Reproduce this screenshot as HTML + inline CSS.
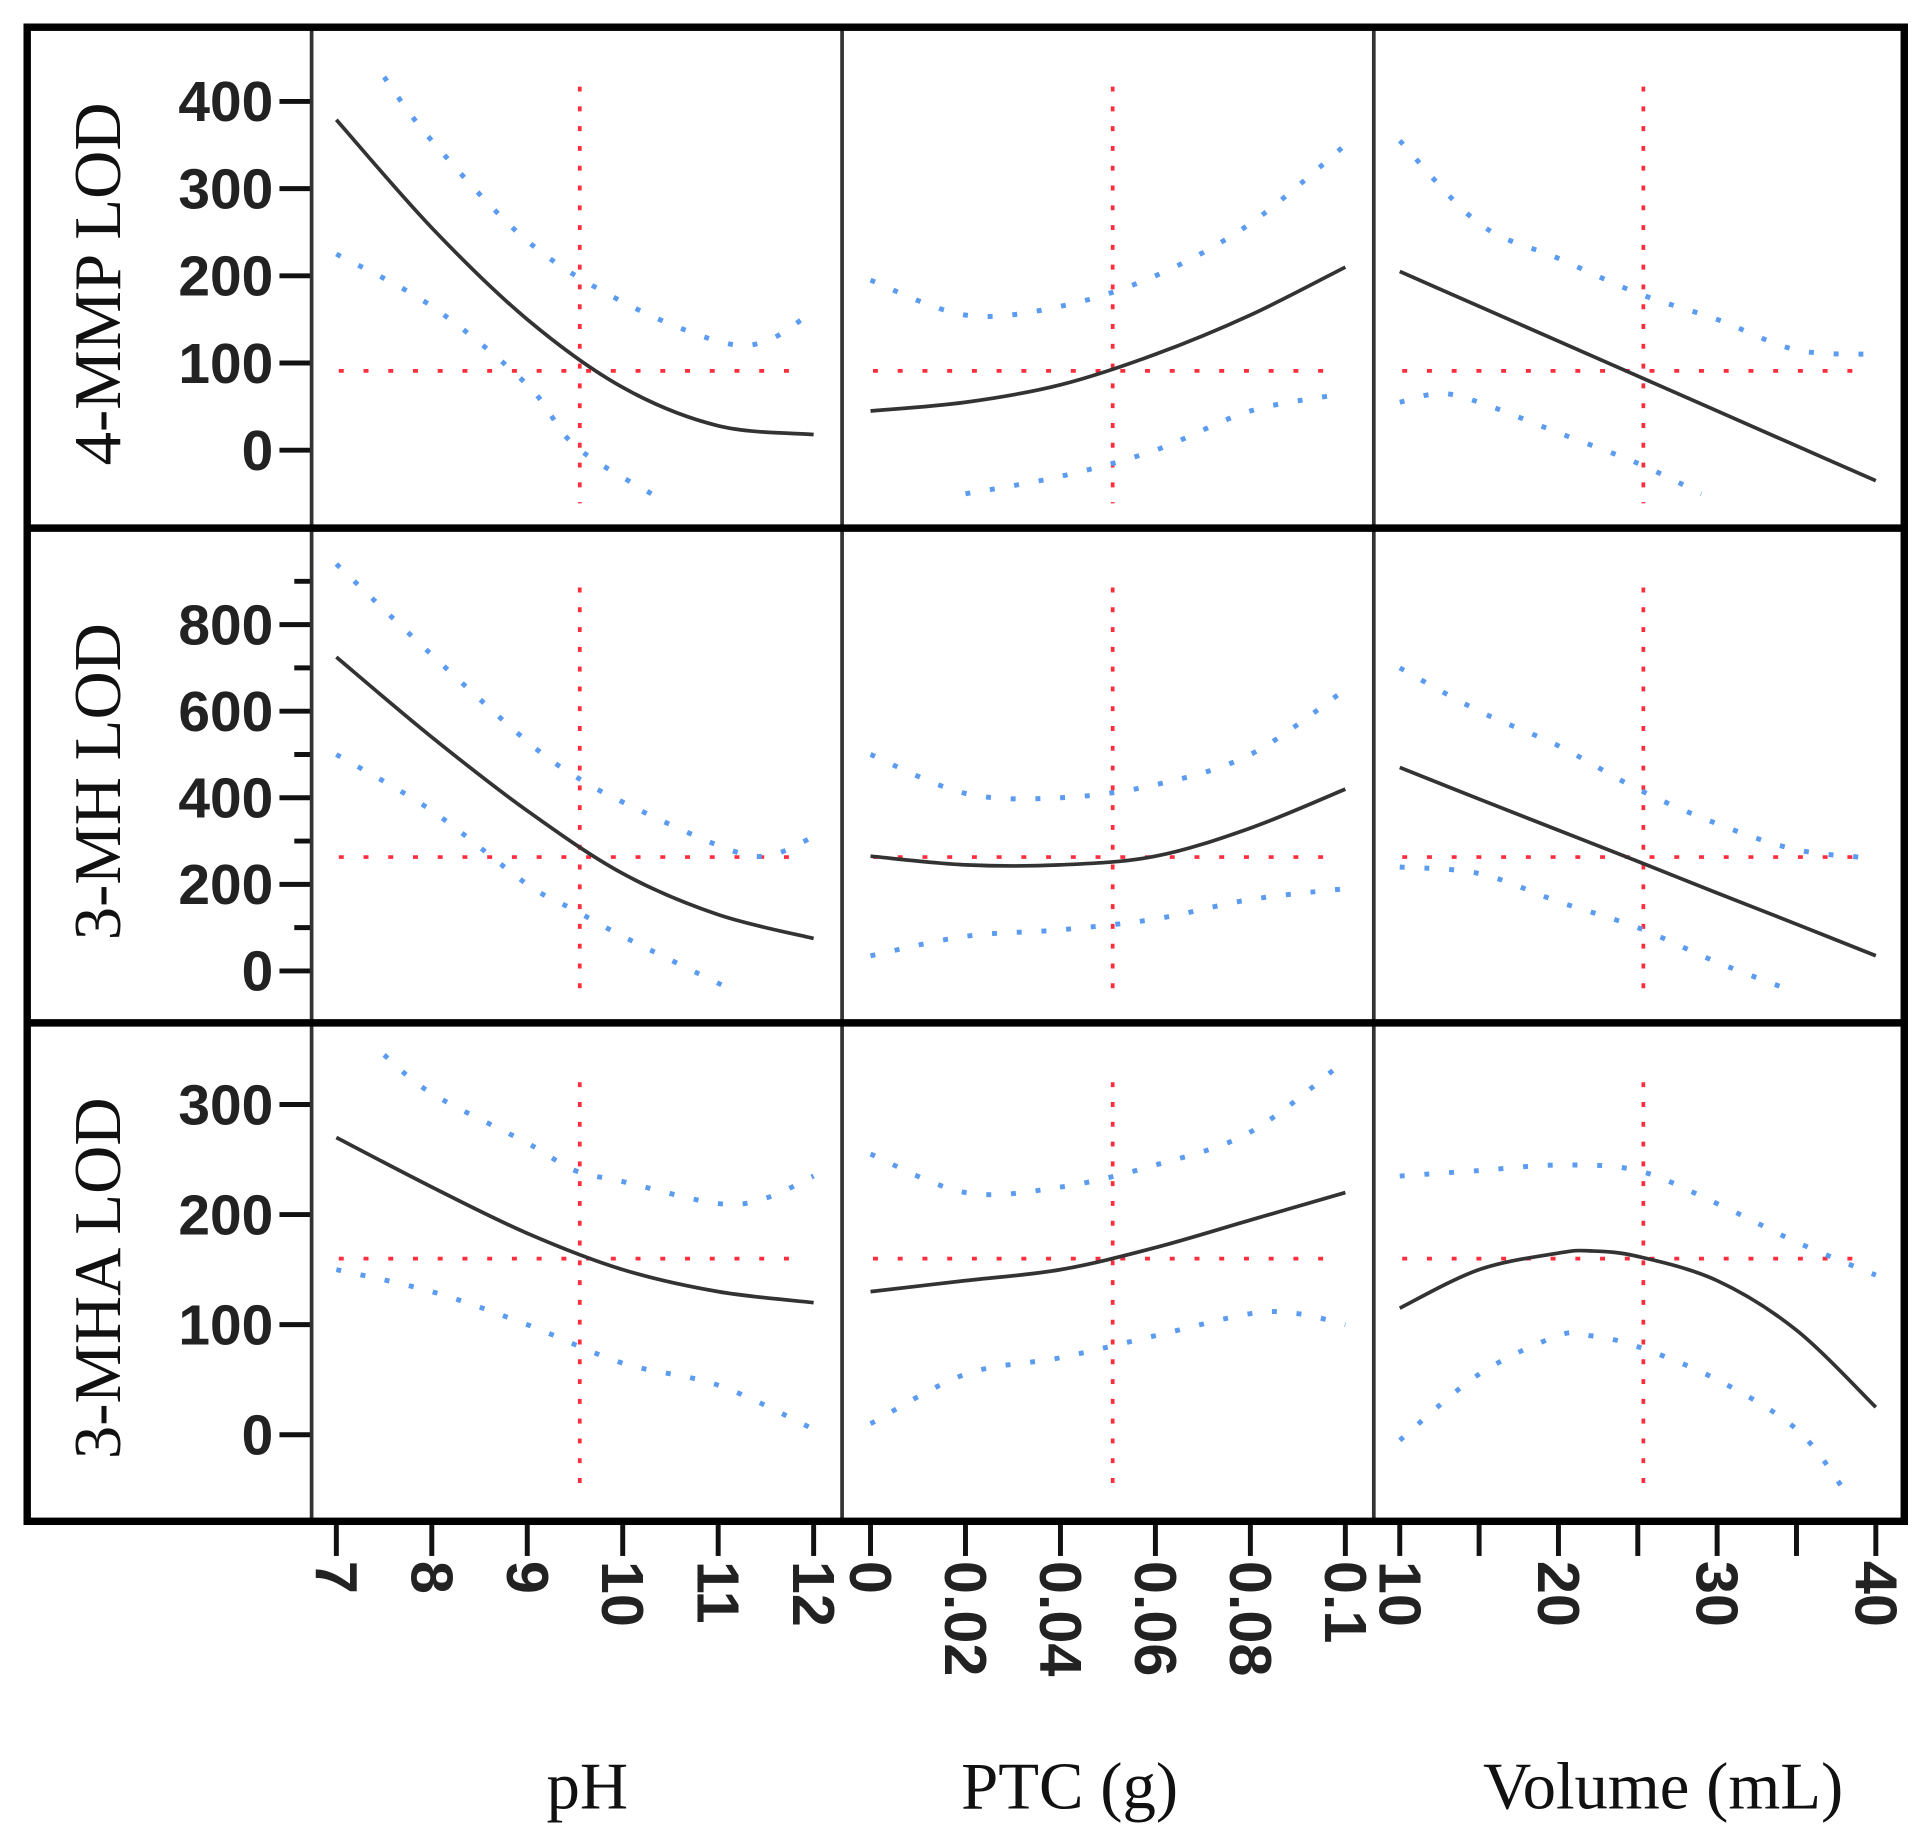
<!DOCTYPE html>
<html><head><meta charset="utf-8"><style>html,body{margin:0;padding:0;background:#fff}svg{display:block}</style></head>
<body>
<svg id="chart" width="1929" height="1833" viewBox="0 0 1560 1482" preserveAspectRatio="none" xmlns="http://www.w3.org/2000/svg"></svg>
<script>
const rowNames = ['4-MMP LOD','3-MH LOD','3-MHA LOD'];
const colNames = ['pH','PTC (g)','Volume (mL)'];
const xTicks = [[7,8,9,10,11,12],[0,0.02,0.04,0.06,0.08,0.1],[10,15,20,25,30,35,40]];
const xTickLabels = [['7','8','9','10','11','12'],['0','0.02','0.04','0.06','0.08','0.1'],['10','','20','','30','','40']];
const yTicks = [[0,100,200,300,400],[0,100,200,300,400,500,600,700,800,900],[0,100,200,300]];
const yTickLabels = [['0','100','200','300','400'],['0','','200','','400','','600','','800',''],['0','100','200','300']];
const refX = [9.55,0.051,25.35];
const refY = [91,263,160];
const pHx = [7,8,9,10,11,12];
const m1pH = [379,255,150,72,28,18];
const u1pHx = [7.5,8,9,10,11,11.5,12];
const u1pH = [428,355,240,170,125,125,160];
const l1pHx = [7,8,9,9.5,10.3];
const l1pH = [225,165,75,5,-50];
const ptcx = [0,0.02,0.04,0.06,0.08,0.1];
const m1ptc = [45,55,75,110,155,210];
const u1ptc = [195,155,165,200,260,350];
const l1ptcx = [0.02,0.04,0.06,0.08,0.1];
const l1ptc = [-50,-30,0,45,65];
const volx = [10,15,20,25,30,35,40];
const m1vol = [205,165,125,85,45,5,-35];
const u1vol = [355,260,220,180,150,115,110];
const l1volx = [10,12.5,15,20,25,29];
const l1vol = [55,65,55,20,-15,-50];
const m2pH = [725,540,370,225,130,75];
const u2pHx = [7,8,9,9.5,10,11,11.5,12];
const u2pH = [940,730,530,450,390,290,265,310];
const l2pHx = [7,8,9,9.5,10,11.2];
const l2pH = [500,370,200,140,80,-50];
const m2ptc = [265,245,245,265,330,420];
const u2ptc = [500,410,400,430,500,650];
const l2ptc = [35,80,95,120,165,190];
const m2vol = [470,397,325,253,180,108,35];
const u2vol = [700,600,520,420,340,280,260];
const l2volx = [10,15,20,25,30,35];
const l2vol = [240,225,160,100,20,-50];
const m3pH = [270,225,183,150,130,120];
const u3pHx = [7.5,8,9,9.5,10,11,11.5,12];
const u3pH = [345,310,265,240,230,210,215,235];
const l3pH = [150,130,100,65,45,5];
const m3ptc = [130,140,150,170,195,220];
const u3ptc = [255,220,225,245,275,340];
const l3ptcx = [0,0.02,0.04,0.06,0.08,0.09,0.1];
const l3ptc = [10,55,70,90,110,110,100];
const m3volx = [10,15,20,22,25,30,35,40];
const m3vol = [115,150,165,167,162,140,95,25];
const u3vol = [235,240,245,240,210,175,145];
const l3volx = [10,15,20,22,25,30,35,38];
const l3vol = [-5,55,90,90,80,50,5,-50];

const series = [
 [{mx:pHx,m:m1pH,ux:u1pHx,u:u1pH,lx:l1pHx,l:l1pH},{mx:ptcx,m:m1ptc,ux:ptcx,u:u1ptc,lx:l1ptcx,l:l1ptc},{mx:volx,m:m1vol,ux:volx,u:u1vol,lx:l1volx,l:l1vol}],
 [{mx:pHx,m:m2pH,ux:u2pHx,u:u2pH,lx:l2pHx,l:l2pH},{mx:ptcx,m:m2ptc,ux:ptcx,u:u2ptc,lx:ptcx,l:l2ptc},{mx:volx,m:m2vol,ux:volx,u:u2vol,lx:l2volx,l:l2vol}],
 [{mx:pHx,m:m3pH,ux:u3pHx,u:u3pH,lx:pHx,l:l3pH},{mx:ptcx,m:m3ptc,ux:ptcx,u:u3ptc,lx:l3ptcx,l:l3ptc},{mx:m3volx,m:m3vol,ux:volx,u:u3vol,lx:l3volx,l:l3vol}]
];

const NS='http://www.w3.org/2000/svg';
const svg=document.getElementById('chart');
function el(t,a,p){const e=document.createElementNS(NS,t);for(const k in a)e.setAttribute(k,a[k]);(p||svg).appendChild(e);return e;}
const colX=[[252,681],[681,1111],[1111,1540]];
const xDom=[[7,12,272,658],[0,0.1,704,1088],[10,40,1132,1517]];
const rowY=[[22,427],[427,827],[827,1230]];
const yDom=[[0,400,364,82],[0,800,785,505],[0,300,1160,893]];
function sx(c,v){const d=xDom[c];return d[2]+(v-d[0])/(d[1]-d[0])*(d[3]-d[2]);}
function sy(r,v){const d=yDom[r];return d[2]+(v-d[0])/(d[1]-d[0])*(d[3]-d[2]);}
function smooth(pts){
 let s='M'+pts[0][0]+','+pts[0][1];
 for(let i=0;i<pts.length-1;i++){
  const p0=pts[Math.max(0,i-1)],p1=pts[i],p2=pts[i+1],p3=pts[Math.min(pts.length-1,i+2)];
  const c1=[p1[0]+(p2[0]-p0[0])/6,p1[1]+(p2[1]-p0[1])/6],c2=[p2[0]-(p3[0]-p1[0])/6,p2[1]-(p3[1]-p1[1])/6];
  s+=' C'+c1.join(',')+' '+c2.join(',')+' '+p2.join(',');
 }
 return s;
}
const defs=el('defs',{});
for(let r=0;r<3;r++)for(let c=0;c<3;c++){
 const cp=el('clipPath',{id:'cp'+r+c},defs);
 el('rect',{x:colX[c][0],y:rowY[r][0],width:colX[c][1]-colX[c][0],height:rowY[r][1]-rowY[r][0]},cp);
}
for(let r=0;r<3;r++){
 for(let c=0;c<3;c++){
  const g=el('g',{'clip-path':'url(#cp'+r+c+')'});
  
  
  const rx=sx(c,refX[c]);
  const vl=el('line',{x1:rx,x2:rx,y1:rowY[r][0]+48,y2:rowY[r][1]-20,stroke:'#ff2d3c','stroke-width':3,'stroke-dasharray':'4 12'},g);
  
  
  const ry=sy(r,refY[r]);
  const hl=el('line',{x1:xDom[c][2]+2,x2:xDom[c][3]-8,y1:ry,y2:ry,stroke:'#ff2d3c','stroke-width':3,'stroke-dasharray':'4 16'},g);
  
  
  const s=series[r][c];
  const up=el('path',{d:smooth(s.ux.map((x,i)=>[sx(c,x),sy(r,s.u[i])])),fill:'none',stroke:'#5b9bf0','stroke-width':4,'stroke-dasharray':'4 16'},g);
  
  
  const lo=el('path',{d:smooth(s.lx.map((x,i)=>[sx(c,x),sy(r,s.l[i])])),fill:'none',stroke:'#5b9bf0','stroke-width':4,'stroke-dasharray':'4 16'},g);
  
  
  const mn=el('path',{d:smooth(s.mx.map((x,i)=>[sx(c,x),sy(r,s.m[i])])),fill:'none',stroke:'#333','stroke-width':3},g);
  
  
 }
 yTicks[r].forEach((v,i)=>{
  const y=sy(r,v);const lab=yTickLabels[r][i];
  el('line',{x1:lab?226:238,x2:252,y1:y,y2:y,stroke:'#111','stroke-width':4});
  if(lab){const t=el('text',{x:221,y:y+16,'text-anchor':'end','font-family':'Liberation Sans Narrow, Liberation Sans, sans-serif','font-weight':'bold','font-size':46,fill:'#222'});t.textContent=lab;
   }
 });
 const cy=(rowY[r][0]+rowY[r][1])/2+5;
 const yt=el('text',{x:97,y:cy,transform:'rotate(-90 97 '+cy+')','text-anchor':'middle','font-family':'Liberation Serif, serif','font-size':54,fill:'#111'});
 yt.textContent=rowNames[r];
 
 
}
[252,681,1111].forEach(x=>el('line',{x1:x,x2:x,y1:22,y2:1230,stroke:'#333','stroke-width':3}));
[427,827].forEach(y=>el('line',{x1:22,x2:1540,y1:y,y2:y,stroke:'#000','stroke-width':6}));
el('rect',{x:22,y:22,width:1518,height:1208,fill:'none',stroke:'#000','stroke-width':6});
for(let c=0;c<3;c++){
 xTicks[c].forEach((v,i)=>{
  const x=sx(c,v);
  el('line',{x1:x,x2:x,y1:1233,y2:1258,stroke:'#111','stroke-width':4});
  const lab=xTickLabels[c][i];
  if(lab){const t=el('text',{x:x,y:1262,transform:'rotate(90 '+x+' 1262)','text-anchor':'start','dominant-baseline':'central','font-family':'Liberation Sans, sans-serif','font-weight':'bold','font-size':48,fill:'#222'});t.textContent=lab;
   }
 });
 const cx=[475,865,1345][c];
 const xt=el('text',{x:cx,y:1462,'text-anchor':'middle','font-family':'Liberation Serif, serif','font-size':54,fill:'#111'});
 xt.textContent=colNames[c];
 
 
}
</script>
</body></html>
